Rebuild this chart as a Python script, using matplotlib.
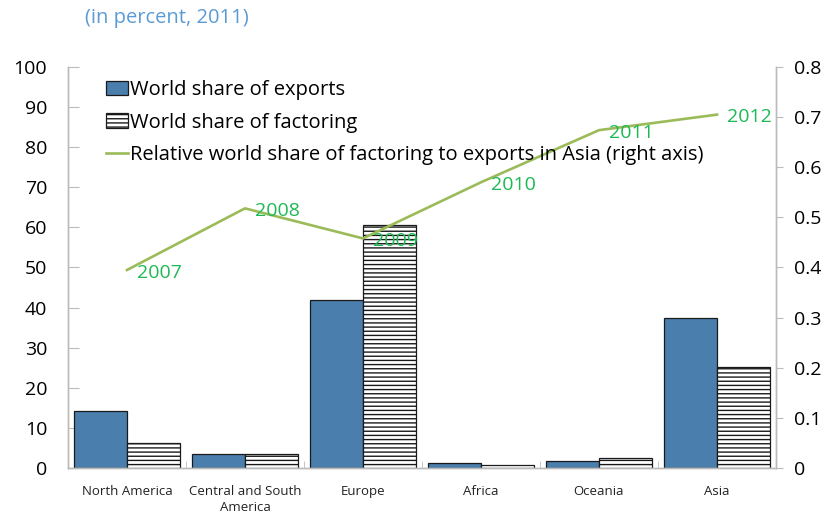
import matplotlib
matplotlib.use("Agg")
import matplotlib.pyplot as plt
import numpy as np
from matplotlib.patches import Patch
from matplotlib.lines import Line2D

plt.rcParams['font.family'] = ['Open Sans', 'DejaVu Sans']
plt.rcParams['hatch.linewidth'] = 1.0

regions = ["North America", "Central and South\nAmerica", "Europe", "Africa", "Oceania", "Asia"]
exports_share = [14.2, 3.5, 41.8, 1.2, 1.7, 37.4]
factoring_share = [6.2, 3.5, 60.5, 0.8, 2.6, 25.2]
years = ["2007", "2008", "2009", "2010", "2011", "2012"]
relative_asia = [0.395, 0.518, 0.458, 0.57, 0.674, 0.705]

fig = plt.figure(figsize=(8.28, 5.19), dpi=100)
ax = fig.add_axes([0.0821, 0.0983, 0.8551, 0.7726])
ax2 = ax.twinx()

x = np.arange(len(regions))
w = 0.45
blue = "#4A7EAC"
ax.bar(x - w / 2, exports_share, w, color=blue, edgecolor="#1a1a1a", linewidth=0.9, zorder=2)
ax.bar(x + w / 2, factoring_share, w, color="white", edgecolor="#1a1a1a", hatch="----",
       linewidth=0.9, zorder=2)

green_line = "#9BBB59"
ax2.plot(x, relative_asia, color=green_line, linewidth=1.9, zorder=3)
for xi, yi, lab in zip(x, relative_asia, years):
    ax2.annotate(lab, (xi, yi), xytext=(7, -2), textcoords="offset points",
                 ha="left", va="center", color="#1DB954", fontsize=14)

ax.set_xlim(-0.5, len(regions) - 0.5)
ax.set_ylim(0, 100)
ax2.set_ylim(0, 0.8)
ax.set_yticks(np.arange(0, 101, 10))
ax2.set_yticks(np.arange(0, 0.81, 0.1))
ax2.set_yticklabels(["0"] + [f"{v:.1f}" for v in np.arange(0.1, 0.81, 0.1)])

ax.set_xticks(x)
ax.set_xticklabels(regions, fontsize=9.5, color="#222222", linespacing=1.3)
ax.tick_params(axis="x", length=0, pad=12)
ax.set_xticks(np.arange(0.5, len(regions) - 0.5, 1), minor=True)
ax.tick_params(axis="x", which="minor", direction="in", length=5, color="#bbbbbb")

ax.tick_params(axis="y", direction="in", length=8, color="#bbbbbb", labelsize=14, pad=15)
ax2.tick_params(axis="y", direction="out", length=5, color="#bbbbbb", labelsize=14, pad=8)

for a in (ax, ax2):
    a.spines["top"].set_visible(False)
    for s in ("left", "right", "bottom"):
        a.spines[s].set_color("#bbbbbb")
        a.spines[s].set_linewidth(1.0)

handles = [
    Patch(facecolor=blue, edgecolor="#1a1a1a", linewidth=0.9),
    Patch(facecolor="white", edgecolor="#1a1a1a", hatch="----", linewidth=0.9),
    Line2D([0], [0], color=green_line, linewidth=1.9),
]
labels = ["World share of exports", "World share of factoring",
          "Relative world share of factoring to exports in Asia (right axis)"]
ax2.legend(handles, labels, loc="upper left", bbox_to_anchor=(0.035, 1.0), frameon=False,
           fontsize=14.5, handlelength=1.1, handletextpad=0.1, labelspacing=0.62,
           borderaxespad=0.25)

fig.text(0.103, 0.965, "(in percent, 2011)", color="#5B9BD5", fontsize=14.5, ha="left", va="center")

fig.savefig("out.png", dpi=100)
